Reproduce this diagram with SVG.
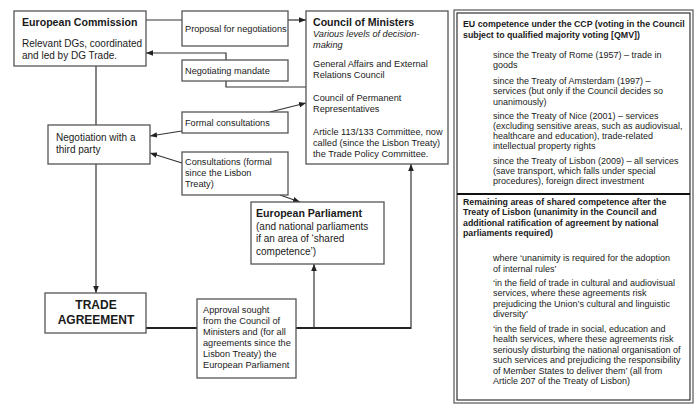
<svg xmlns="http://www.w3.org/2000/svg" width="697" height="409" viewBox="0 0 697 409">
<defs>
<style>
text{font-family:"Liberation Sans",Arial,sans-serif;fill:#1a1a1a;}
.t{font-size:9.2px;}
.tb{font-size:10.6px;font-weight:bold;}
.tm{font-size:10px;}
.ti{font-size:9.2px;font-style:italic;}
.big{font-size:12px;font-weight:bold;}
.r{font-size:9px;}
.rb{font-size:8.8px;font-weight:bold;}
.box{fill:#fff;stroke:#555;stroke-width:1.3;}
.ln{fill:none;stroke:#333;stroke-width:1.2;}
.thick{fill:none;stroke:#222;stroke-width:2;}
</style>
<marker id="ah" viewBox="0 0 10 10" refX="10" refY="5" markerWidth="7" markerHeight="7" markerUnits="userSpaceOnUse" orient="auto">
<path d="M0,1 L10,5 L0,9 z" fill="#222"/>
</marker>
</defs>
<rect width="697" height="409" fill="#fff"/>

<g id="connectors">
<line class="ln" x1="146" y1="20" x2="182" y2="20"/>
<line class="ln" x1="288" y1="20" x2="306" y2="20" marker-end="url(#ah)"/>
<polyline class="ln" points="306,87 226,87 226,53 146,53" marker-end="url(#ah)"/>
<line class="ln" x1="270" y1="112" x2="306" y2="103" marker-end="url(#ah)"/>
<line class="ln" x1="182" y1="131" x2="150" y2="136" marker-end="url(#ah)"/>
<line class="ln" x1="182" y1="163" x2="150" y2="153" marker-end="url(#ah)"/>
<line class="ln" x1="280" y1="195" x2="300" y2="202" marker-end="url(#ah)"/>
<line class="ln" x1="96" y1="66" x2="96" y2="125"/>
<line class="ln" x1="96" y1="164" x2="96" y2="293" marker-end="url(#ah)"/>
<polyline class="thick" points="146,328 411,328"/>
<line class="ln" x1="314" y1="328" x2="314" y2="264" marker-end="url(#ah)"/>
<line class="ln" x1="411" y1="329" x2="411" y2="164" marker-end="url(#ah)"/>
</g>

<g id="ec">
<rect class="box" x="14" y="11" width="132" height="55"/>
<text class="tb" x="22" y="26">European Commission</text>
<text class="tm" x="22" y="47">Relevant DGs, coordinated</text>
<text class="tm" x="22" y="59">and led by DG Trade.</text>
</g>

<g id="proposal">
<rect class="box" x="182" y="11" width="106" height="35"/>
<text class="t" x="185" y="32">Proposal for negotiations</text>
</g>

<g id="council">
<rect class="box" x="306" y="11" width="142" height="153"/>
<text class="tb" x="313" y="26">Council of Ministers</text>
<text class="ti" x="313" y="37">Various levels of decision-</text>
<text class="ti" x="313" y="48">making</text>
<text class="t" x="313" y="67">General Affairs and External</text>
<text class="t" x="313" y="78">Relations Council</text>
<text class="t" x="313" y="101">Council of Permanent</text>
<text class="t" x="313" y="112">Representatives</text>
<text class="t" x="313" y="135">Article 113/133 Committee, now</text>
<text class="t" x="313" y="146">called (since the Lisbon Treaty)</text>
<text class="t" x="313" y="157">the Trade Policy Committee.</text>
</g>

<g id="mandate">
<rect class="box" x="182" y="60" width="106" height="21"/>
<text class="t" x="185" y="74">Negotiating mandate</text>
</g>

<g id="formal">
<rect class="box" x="182" y="112" width="106" height="21"/>
<text class="t" x="185" y="126">Formal consultations</text>
</g>

<g id="negotiation">
<rect class="box" x="48" y="125" width="102" height="39"/>
<text class="tm" x="56" y="141">Negotiation with a</text>
<text class="tm" x="56" y="153">third party</text>
</g>

<g id="consultations">
<rect class="box" x="182" y="152" width="106" height="43"/>
<text class="t" x="185" y="165">Consultations (formal</text>
<text class="t" x="185" y="176">since the Lisbon</text>
<text class="t" x="185" y="187">Treaty)</text>
</g>

<g id="ep">
<rect class="box" x="251" y="202" width="133" height="62"/>
<text class="tb" x="256" y="217">European Parliament</text>
<text class="tm" x="256" y="230">(and national parliaments</text>
<text class="tm" x="256" y="242">if an area of ‘shared</text>
<text class="tm" x="256" y="255">competence’)</text>
</g>

<g id="trade">
<rect class="box" x="45" y="293" width="101" height="40"/>
<text class="big" x="96" y="309" text-anchor="middle">TRADE</text>
<text class="big" x="96" y="324" text-anchor="middle">AGREEMENT</text>
</g>

<g id="approval">
<rect class="box" x="197" y="299" width="99" height="79"/>
<text class="t" x="203" y="313">Approval sought</text>
<text class="t" x="203" y="324">from the Council of</text>
<text class="t" x="203" y="335">Ministers and (for all</text>
<text class="t" x="203" y="346">agreements since the</text>
<text class="t" x="203" y="357">Lisbon Treaty) the</text>
<text class="t" x="203" y="368">European Parliament</text>
</g>

<g id="competence-panel">
<rect x="454" y="10" width="239" height="393" fill="none" stroke="#555" stroke-width="1.2"/>
<rect x="457" y="13" width="233" height="387" fill="none" stroke="#333" stroke-width="1.2"/>
<line x1="457" y1="194" x2="690" y2="194" stroke="#111" stroke-width="2"/>
<text class="rb" x="463" y="27">EU competence under the CCP (voting in the Council</text>
<text class="rb" x="463" y="38">subject to qualified majority voting [QMV])</text>
<text class="r" x="493" y="57.5">since the Treaty of Rome (1957) – trade in</text>
<text class="r" x="493" y="68">goods</text>
<text class="r" x="493" y="84">since the Treaty of Amsterdam (1997) –</text>
<text class="r" x="493" y="94.3">services (but only if the Council decides so</text>
<text class="r" x="493" y="104.6">unanimously)</text>
<text class="r" x="493" y="118.5">since the Treaty of Nice (2001) – services</text>
<text class="r" x="493" y="128.8">(excluding sensitive areas, such as audiovisual,</text>
<text class="r" x="493" y="139.1">healthcare and education), trade-related</text>
<text class="r" x="493" y="149.4">intellectual property rights</text>
<text class="r" x="493" y="163.5">since the Treaty of Lisbon (2009) – all services</text>
<text class="r" x="493" y="173.8">(save transport, which falls under special</text>
<text class="r" x="493" y="184.1">procedures), foreign direct investment</text>
<text class="rb" x="463" y="205">Remaining areas of shared competence after the</text>
<text class="rb" x="463" y="215.3">Treaty of Lisbon (unanimity in the Council and</text>
<text class="rb" x="463" y="225.6">additional ratification of agreement by national</text>
<text class="rb" x="463" y="235.9">parliaments required)</text>
<text class="r" x="493" y="261">where ‘unanimity is required for the adoption</text>
<text class="r" x="493" y="271.5">of internal rules’</text>
<text class="r" x="493" y="286">‘in the field of trade in cultural and audiovisual</text>
<text class="r" x="493" y="296.4">services, where these agreements risk</text>
<text class="r" x="493" y="306.8">prejudicing the Union’s cultural and linguistic</text>
<text class="r" x="493" y="317.2">diversity’</text>
<text class="r" x="493" y="332">‘in the field of trade in social, education and</text>
<text class="r" x="493" y="342.4">health services, where these agreements risk</text>
<text class="r" x="493" y="352.8">seriously disturbing the national organisation of</text>
<text class="r" x="493" y="363.2">such services and prejudicing the responsibility</text>
<text class="r" x="493" y="373.6">of Member States to deliver them’ (all from</text>
<text class="r" x="493" y="384">Article 207 of the Treaty of Lisbon)</text>
</g>
</svg>
